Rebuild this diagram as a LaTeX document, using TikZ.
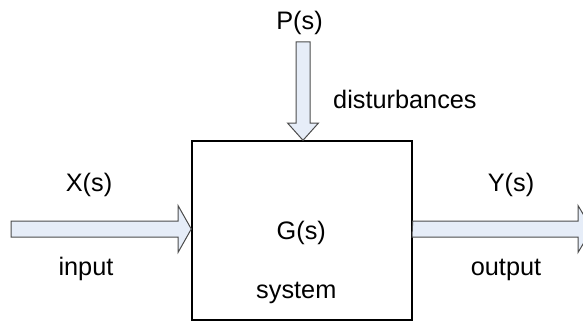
\documentclass[tikz,border=0pt]{standalone}
\usepackage{fontspec}
\setmainfont{Liberation Sans}
\begin{document}
\begin{tikzpicture}[x=1pt,y=-1pt,
  lbl/.style={font=\fontsize{25.3}{30}\selectfont, inner sep=0pt, anchor=base},
  blockarrow/.style={fill=arrowfill, draw=gray!60!black, line width=1pt, line join=miter},
  sysbox/.style={draw=black, line width=1.4pt, minimum width=220pt, minimum height=179pt, inner sep=0pt}]
\definecolor{arrowfill}{RGB}{230,237,248}
\useasboundingbox (0,0) rectangle (583,321);
% system box
\node[sysbox] (box) at (302,230.5) {};
% input arrow
\coordinate (inTail) at (11,229);
\draw[blockarrow] (inTail) ++(0,-8) -- (178,221) -- (178,205.5) -- (box.west |- inTail) -- (178,252.5) -- (178,237) -- (11,237) -- cycle;
% output arrow
\coordinate (outTip) at (592,229);
\draw[blockarrow] (box.east |- outTip) ++(0,-8) -- (578,221) -- (578,205.5) -- (outTip) -- (578,252.5) -- (578,237) -- (412,237) -- cycle;
% disturbance arrow
\coordinate (dTail) at (303,42);
\draw[blockarrow] (dTail) ++(-7,0) -- (310,42) -- (310,123) -- (318.5,123) -- (box.north -| dTail) -- (287.5,123) -- (296,123) -- cycle;
% labels
\node[lbl] (P) at (299.5,29.5) {P(s)};
\node[lbl, anchor=base west] (dist) at (333,108.3) {disturbances};
\node[lbl] (X) at (89,191.5) {X(s)};
\node[lbl] (Y) at (511,191) {Y(s)};
\node[lbl] (G) at (301.3,239.3) {G(s)};
\node[lbl] (sys) at (296.3,298) {system};
\node[lbl, anchor=base west] (in) at (58.3,275) {input};
\node[lbl] (out) at (506,275) {output};
\end{tikzpicture}
\end{document}
